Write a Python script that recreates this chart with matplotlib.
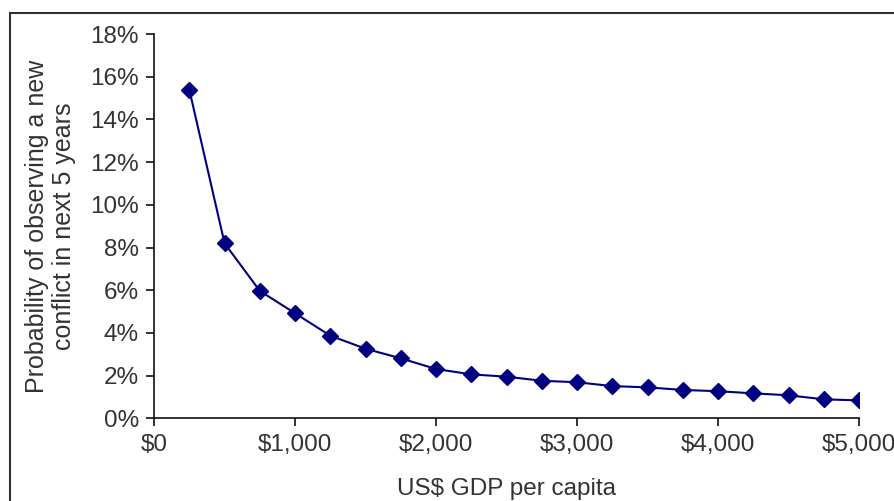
import matplotlib.pyplot as plt
from matplotlib.patches import Rectangle
from matplotlib.ticker import FuncFormatter

gdp = [250, 500, 750, 1000, 1250, 1500, 1750, 2000, 2250, 2500,
       2750, 3000, 3250, 3500, 3750, 4000, 4250, 4500, 4750, 5000]
prob = [15.4, 8.2, 5.97, 4.92, 3.87, 3.26, 2.81, 2.31, 2.06, 1.95,
        1.76, 1.69, 1.51, 1.45, 1.33, 1.27, 1.17, 1.08, 0.89, 0.84]

plt.rcParams['font.family'] = ['Liberation Sans', 'DejaVu Sans']

fig = plt.figure(figsize=(8.94, 5.01), dpi=100)
ax = fig.add_axes([0.1723, 0.165, 0.961 - 0.1723, 0.932 - 0.165])

ax.plot(gdp, prob, color='#000080', linewidth=1.5,
        marker='D', markersize=8, markerfacecolor='#000080',
        markeredgecolor='#000080')

ax.set_xlim(0, 5000)
ax.set_ylim(0, 18)
ax.set_xticks(range(0, 5001, 1000))
ax.set_yticks(range(0, 19, 2))
ax.xaxis.set_major_formatter(FuncFormatter(lambda v, p: f"${v:,.0f}"))
ax.yaxis.set_major_formatter(FuncFormatter(lambda v, p: f"{v:.0f}%"))

for side in ['top', 'right']:
    ax.spines[side].set_visible(False)
for side in ['left', 'bottom']:
    ax.spines[side].set_linewidth(1.2)
    ax.spines[side].set_color('#111111')

ax.tick_params(direction='out', length=6, width=1.2, colors='#111111',
               labelsize=17.5, labelcolor='#333333', pad=5)

ax.set_xlabel("US$ GDP per capita", fontsize=17.5, color='#333333')
ax.xaxis.set_label_coords(0.5, -0.156)
ax.set_ylabel("Probability of observing a new\nconflict in next 5 years",
              fontsize=18, color='#333333', labelpad=10, linespacing=1.15)

# outer chart border (cropped on the right and bottom)
fig.patches.append(Rectangle((10 / 894, -0.05), 1.2, 1 - 13 / 501 + 0.05,
                             transform=fig.transFigure, fill=False,
                             edgecolor='#333333', linewidth=1.5))

fig.savefig("out.png", dpi=100)
